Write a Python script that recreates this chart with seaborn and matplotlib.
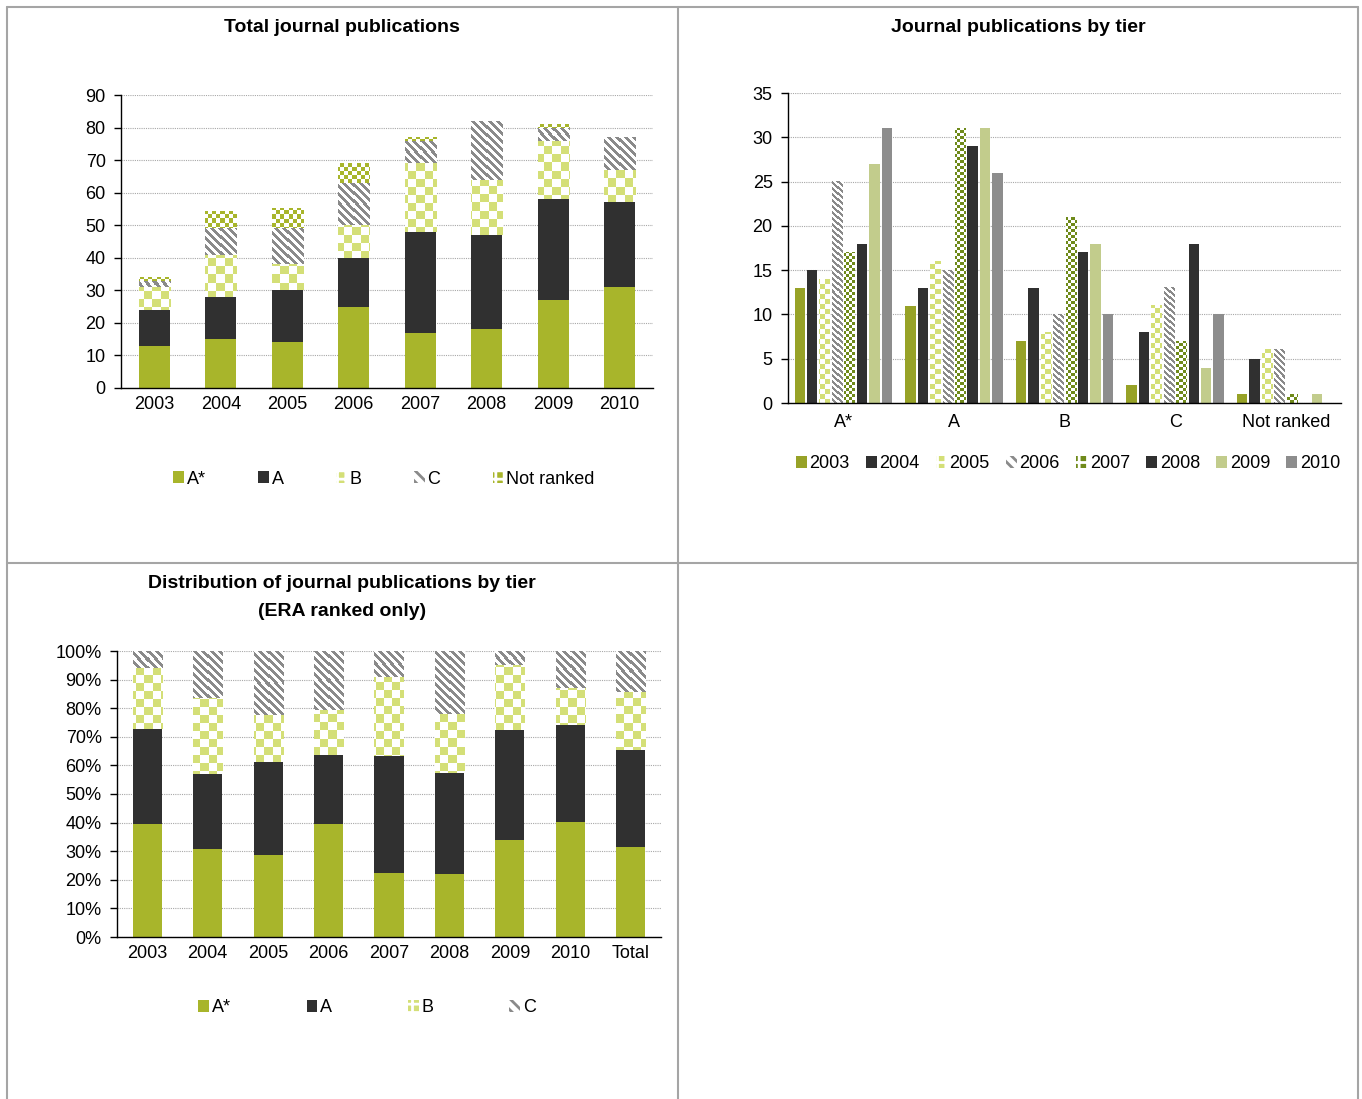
"""Journal publication charts: totals, by tier, and tier distribution."""

import numpy as np
import pandas as pd
import matplotlib

matplotlib.use("Agg")

import matplotlib.pyplot as plt
import seaborn as sns
from matplotlib.colors import to_rgb
from matplotlib.lines import Line2D
from matplotlib.patches import Patch
from matplotlib.ticker import PercentFormatter

years = ["2003", "2004", "2005", "2006", "2007", "2008", "2009", "2010"]
tiers = ["A*", "A", "B", "C", "Not ranked"]

a_star = [13, 15, 14, 25, 17, 18, 27, 31]
a_tier = [11, 13, 16, 15, 31, 29, 31, 26]
b_tier = [7, 13, 8, 10, 21, 17, 18, 10]
c_tier = [2, 8, 11, 13, 7, 18, 4, 10]
not_ranked = [1, 5, 6, 6, 1, 0, 1, 0]

OLIVE = "#a8b52b"
DARK = "#303030"
LIGHT = "#d4df77"
GREY = "#8a8a8a"

# kind, colour, cell size in pixels
tier_style = {
    "A*": ("solid", OLIVE, 0),
    "A": ("solid", DARK, 0),
    "B": ("checker", LIGHT, 8),
    "C": ("stripe", GREY, 8),
    "Not ranked": ("checker", OLIVE, 4),
}
year_style = {
    "2003": ("solid", "#97a227", 0),
    "2004": ("solid", DARK, 0),
    "2005": ("checker", LIGHT, 5),
    "2006": ("stripe", GREY, 6),
    "2007": ("checker", "#6f8a1a", 3),
    "2008": ("solid", DARK, 0),
    "2009": ("solid", "#c2cc8c", 0),
    "2010": ("solid", "#8d8d8d", 0),
}

W, H = 1362, 1099
FONT = ["Liberation Sans", "DejaVu Sans"]

sns.set_theme(style="white", rc={
    "text.color": "black",
    "axes.labelcolor": "black",
    "xtick.color": "black",
    "ytick.color": "black",
})
plt.rcParams["font.family"] = FONT
plt.rcParams["hatch.linewidth"] = 2.0

fig = plt.figure(figsize=(W / 100, H / 100), dpi=100)
fig.patch.set_facecolor("white")


def px_axes(left, top, right, bottom):
    return fig.add_axes([left / W, 1 - bottom / H, (right - left) / W, (bottom - top) / H])


def paint(ax, bars, style):
    kind, color, cell = style
    for bar in bars:
        if bar.get_height() <= 0:
            continue
        if kind == "solid":
            bar.set_facecolor(color)
            continue
        bb = bar.get_window_extent()
        x0, y0 = int(round(bb.x0)), int(round(bb.y0))
        w, h = int(round(bb.x1)) - x0, int(round(bb.y1)) - y0
        if w < 1 or h < 1:
            continue
        px = x0 + np.arange(w)[None, :]
        py = (y0 + h - 1 - np.arange(h))[:, None]
        if kind == "checker":
            mask = ((px // cell) + (py // cell)) % 2 == 0
        else:
            mask = (px + py) % cell < cell / 2
        img = np.ones((h, w, 3))
        img[mask] = to_rgb(color)
        bar.set_facecolor("white")
        ax.imshow(
            img,
            extent=(bar.get_x(), bar.get_x() + bar.get_width(), bar.get_y(), bar.get_y() + bar.get_height()),
            aspect="auto",
            interpolation="nearest",
            zorder=bar.get_zorder() + 0.01,
        )


def legend_handle(style):
    kind, color, _ = style
    if kind == "solid":
        return Patch(facecolor=color, edgecolor="none", linewidth=0)
    if kind == "checker":
        return Patch(facecolor=color, edgecolor="white", hatch="++", linewidth=0)
    return Patch(facecolor="white", edgecolor=color, hatch="\\\\\\", linewidth=0)


def style_axes(ax, cats, ymax, ystep, xpad):
    n = len(cats)
    ax.set_xlim(-0.5, n - 0.5)
    ax.set_ylim(0, ymax)
    ax.set_yticks(np.arange(0, ymax + ystep / 2, ystep))
    ax.set_xticks(np.arange(n + 1) - 0.5, labels=[""] * (n + 1))
    ax.set_xticks(np.arange(n), labels=cats, minor=True)
    ax.tick_params(axis="x", which="major", length=5, width=1, color="black", direction="out")
    ax.tick_params(axis="x", which="minor", length=0, pad=xpad, labelsize=13, labelcolor="black")
    ax.tick_params(axis="y", length=5, width=1, color="black", direction="out", pad=6, labelsize=13,
                   labelcolor="black", left=True)
    ax.set_xlabel("")
    ax.set_ylabel("")
    ax.set_facecolor("white")
    for side in ("top", "right"):
        ax.spines[side].set_visible(False)
    for side in ("left", "bottom"):
        ax.spines[side].set_color("black")
        ax.spines[side].set_linewidth(1)
    ax.yaxis.grid(True, linestyle=(0, (1, 1)), color="#a8a8a8", linewidth=0.8)
    ax.set_axisbelow(True)


legend_kw = dict(loc="center", bbox_transform=fig.transFigure, frameon=False, fontsize=13,
                 handlelength=0.6, handleheight=0.6, handletextpad=0.15, labelcolor="black")

# ---- Chart 1: total journal publications (stacked) ----
ax1 = px_axes(121, 95, 653, 388)
layers = {"A*": a_star, "A": a_tier, "B": b_tier, "C": c_tier, "Not ranked": not_ranked}
bottom = np.zeros(len(years))
for tier, vals in layers.items():
    sns.barplot(x=years, y=vals, bottom=bottom, width=0.47, errorbar=None, linewidth=0,
                color=tier_style[tier][1], ax=ax1)
    bottom = bottom + np.array(vals)
style_axes(ax1, years, 90, 10, 6)
for tier, cont in zip(layers, ax1.containers):
    paint(ax1, cont, tier_style[tier])
ax1.set_xlim(-0.5, len(years) - 0.5)
ax1.set_ylim(0, 90)
ax1.legend([legend_handle(tier_style[t]) for t in tiers], tiers, ncol=5,
           bbox_to_anchor=(384 / W, 1 - 479 / H), columnspacing=2.9, **legend_kw)

# ---- Chart 2: journal publications by tier (grouped) ----
ax2 = px_axes(788, 93, 1341, 403)
long = pd.DataFrame({
    "tier": np.repeat(tiers, len(years)),
    "year": years * len(tiers),
    "count": a_star + a_tier + b_tier + c_tier + not_ranked,
})
sns.barplot(data=long, x="tier", y="count", hue="year", hue_order=years, order=tiers,
            palette={y: year_style[y][1] for y in years}, width=0.9, gap=0.17, errorbar=None,
            linewidth=0, legend=False, ax=ax2)
style_axes(ax2, tiers, 35, 5, 8)
for year, cont in zip(years, ax2.containers):
    paint(ax2, cont, year_style[year])
ax2.set_xlim(-0.5, len(tiers) - 0.5)
ax2.set_ylim(0, 35)
ax2.legend([legend_handle(year_style[y]) for y in years], years, ncol=8,
           bbox_to_anchor=(1068 / W, 1 - 464 / H), columnspacing=0.9, **legend_kw)

# ---- Chart 3: distribution by tier, ERA ranked only ----
ax3 = px_axes(117, 651, 661, 937)
ranked = {"A*": a_star, "A": a_tier, "B": b_tier, "C": c_tier}
dist_cats = years + ["Total"]
counts = np.array([vals + [sum(vals)] for vals in ranked.values()], dtype=float)
shares = counts / counts.sum(axis=0)
bottom = np.zeros(len(dist_cats))
for tier, vals in zip(ranked, shares):
    sns.barplot(x=dist_cats, y=vals, bottom=bottom, width=0.48, errorbar=None, linewidth=0,
                color=tier_style[tier][1], ax=ax3)
    bottom = bottom + vals
style_axes(ax3, dist_cats, 1.0, 0.1, 6)
ax3.yaxis.set_major_formatter(PercentFormatter(xmax=1, decimals=0))
for tier, cont in zip(ranked, ax3.containers):
    paint(ax3, cont, tier_style[tier])
ax3.set_xlim(-0.5, len(dist_cats) - 0.5)
ax3.set_ylim(0, 1.0)
ax3.legend([legend_handle(tier_style[t]) for t in ranked], list(ranked), ncol=4,
           bbox_to_anchor=(367 / W, 1 - 1008 / H), columnspacing=4.2, **legend_kw)

# ---- titles and panel borders ----
title_kw = dict(ha="center", va="center", fontsize=14, fontweight="bold", color="black")
fig.text(342 / W, 1 - 27 / H, "Total journal publications", **title_kw)
fig.text(1018 / W, 1 - 27 / H, "Journal publications by tier", **title_kw)
fig.text(342 / W, 1 - 583 / H, "Distribution of journal publications by tier", **title_kw)
fig.text(342 / W, 1 - 612 / H, "(ERA ranked only)", **title_kw)

border = dict(color="#a5a5a5", linewidth=1.5, transform=fig.transFigure)
for x in (6.5, 678, 1358):
    fig.add_artist(Line2D([x / W, x / W], [1 - 7 / H, 0], **border))
for y in (7, 563):
    fig.add_artist(Line2D([6.5 / W, 1358 / W], [1 - y / H, 1 - y / H], **border))

fig.savefig("out.png", dpi=100, facecolor="white")
plt.close(fig)
